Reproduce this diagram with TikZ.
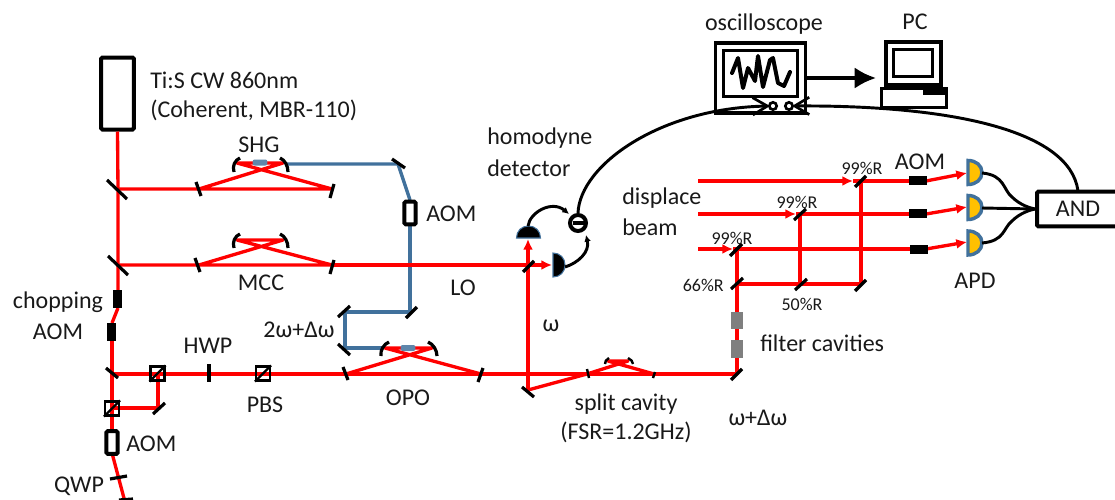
\documentclass[tikz,border=0pt]{standalone}
\usepackage{fontspec}
\setmainfont{Carlito}
\usetikzlibrary{arrows.meta,calc}
\definecolor{beamblue}{HTML}{41719C}
\definecolor{apdor}{HTML}{FFC000}
\definecolor{cavgrey}{HTML}{7F7F7F}
\tikzset{
  x=0.75pt,y=-0.75pt,
  beam/.style={draw=red,line width=2.5pt,line join=round},
  bluebeam/.style={draw=beamblue,line width=2.6pt,line join=round},
  mir/.style={draw=black,line width=2.4pt},
  thinmir/.style={draw=black,line width=1.8pt},
  rarrow/.style={draw=red,line width=2.5pt,-{Latex[length=8pt,width=7.5pt]}},
  wire/.style={draw=black,line width=2.2pt},
  wirearrow/.style={wire,-{Latex[length=5pt,width=5pt]}},
  chevron/.style={wire,-{Straight Barb[length=11pt,width=13pt,line width=2pt]}},
  lab/.style={font=\fontsize{18}{20}\selectfont,inner sep=0pt,text=black!90},
  slab/.style={font=\fontsize{13.5}{15}\selectfont,inner sep=0pt,text=black!90},
  boxblack/.style={fill=black,draw=none,inner sep=0pt},
  aomhollow/.style={draw=black,fill=white,line width=3pt,rounded corners=1pt,inner sep=0pt,minimum width=8.5pt,minimum height=17pt},
  pbscube/.style={draw=black,line width=1.6pt,fill=none,inner sep=0pt,minimum width=10.5pt,minimum height=10.5pt},
  greybox/.style={fill=cavgrey,draw=none,inner sep=0pt,minimum width=9pt,minimum height=13pt},
  crystal/.style={fill=beamblue!85!white,draw=none,inner sep=0pt,minimum width=11pt,minimum height=4.5pt,rounded corners=1.5pt},
  apd/.pic={\path[fill=apdor,draw=beamblue,line width=2.6pt]
     (0,-12) .. controls (8,-12) and (14,-7) .. (14,0) .. controls (14,7) and (8,12) .. (0,12) -- cycle;},
  pd/.pic={\path[fill=black,draw=beamblue,line width=0.8pt]
     (0,-12) .. controls (7,-12) and (12,-7) .. (12,0) .. controls (12,7) and (7,12) .. (0,12) -- cycle;},
}
\newcommand{\pbsdiag}[1]{\draw[black,line width=1.6pt] (#1.south west) -- (#1.north east);}
\begin{document}
\begin{tikzpicture}
\useasboundingbox (0,0) rectangle (1115,500);
\clip (0,0) rectangle (1115,500);

% ---------- named points
\coordinate (m1) at (118,189);
\coordinate (m2) at (118,265);
\coordinate (s1) at (199,189);
\coordinate (s2) at (332,189);
\coordinate (s3) at (237,163);
\coordinate (s4) at (283,163);
\coordinate (c1) at (199,265);
\coordinate (c2) at (332,265);
\coordinate (c3) at (237,240);
\coordinate (c4) at (283,240);
\coordinate (bm1) at (398,164);
\coordinate (bm2) at (410,312);
\coordinate (bm3) at (345,312);
\coordinate (bm4) at (345,348);
\coordinate (o1) at (346,374);
\coordinate (o2) at (481,374);
\coordinate (o3) at (385,348);
\coordinate (o4) at (432,348);
\coordinate (sp1) at (587,374);
\coordinate (sp2) at (654,374);
\coordinate (sp3) at (608,361);
\coordinate (sp4) at (628,361);
\coordinate (ml) at (528,390);
\coordinate (lo) at (528,265);
\coordinate (fm) at (737,374);
\coordinate (h1) at (737,249);
\coordinate (h2) at (800,214);
\coordinate (h3) at (861,181);
\coordinate (f1) at (737,284);
\coordinate (f2) at (800,284);
\coordinate (f3) at (861,284);
\coordinate (d1) at (698,181);
\coordinate (d2) at (698,214);
\coordinate (d3) at (698,249);
\coordinate (lm) at (112,374);
\coordinate (pm) at (158,408);
\coordinate (qe) at (125,502);

\node[draw=black,line width=3pt,rounded corners=1pt,inner sep=0pt,minimum width=24.5pt,minimum height=54pt,fill=white] (laser) at (117.5,93.5) {};

% ---------- blue beam
\coordinate (aomt) at (410,200);
\coordinate (aomb) at (410,226);
\draw[bluebeam] (287,164) -- (bm1) -- (aomt);
\draw[bluebeam] (aomb) -- (bm2) -- (bm3) -- (bm4) -- (383,348);

% ---------- red beams
\draw[beam] (laser.south) -- (m1) -- (m2) -- (118,290);
\draw[beam] (m1) -- (s1) -- (s2) -- (s3) -- (s4) -- (s1);
\draw[beam] (m2) -- (c1) -- (c2) -- (c3) -- (c4) -- (c1);
\draw[beam] (c2) -- (lo);
\draw[rarrow] (lo) -- (552,265);
\draw[beam] (118,308) -- (112,323);
\draw[beam] (112,341) -- (112,432);
\draw[beam] (lm) -- (fm) -- (737,358);
\draw[beam] (737,340) -- (737,329);
\draw[beam] (737,312) -- (h1);
\draw[beam] (o1) -- (o4) -- (o3) -- (o2);
\draw[beam] (ml) -- (sp1) -- (sp4) -- (sp3) -- (sp2);
\draw[rarrow] (ml) -- (528,239);
\draw[beam] (pm) -- (158,374);
\draw[beam] (112,408) -- (pm);
\draw[beam] (112,453) -- (qe);
\draw[beam] (f1) -- (f3) -- (h3);
\draw[beam] (f2) -- (h2);
\draw[rarrow] (d1) -- (853,181);
\draw[rarrow] (d2) -- (796,214);
\draw[rarrow] (d3) -- (733,249);
\draw[beam] (853,181) -- (912,181);
\draw[beam] (796,214) -- (912,214);
\draw[beam] (733,249) -- (912,249);
\draw[rarrow] (926,181) -- (967,173);
\draw[rarrow] (926,214) -- (967,207);
\draw[rarrow] (926,249) -- (967,242);

% ---------- flat mirrors
\draw[mir] (107,180) -- (127,199);
\draw[mir] (108,256) -- (128,275);
\draw[mir] (196,182) -- (201,196);
\draw[mir] (334,184) -- (330,198);
\draw[mir] (195,258) -- (200,272);
\draw[mir] (334,260) -- (330,274);
\draw[mir] (392,159) -- (405,168);
\draw[mir] (406,318) -- (417,307);
\draw[mir] (338,317) -- (350,306);
\draw[mir] (338,344) -- (350,355);
\draw[mir] (343,367) -- (348,380);
\draw[mir] (483,368) -- (478,382);
\draw[thinmir] (587,369) -- (589,378);
\draw[thinmir] (655,372) -- (653,378);
\draw[mir] (522,387) -- (534,397);
\draw[mir] (523,272) -- (534,261);
\draw[mir] (731,380) -- (742,369);
\draw[mir] (855,187) -- (866,176);
\draw[mir] (794,220) -- (806,209);
\draw[mir] (730,256) -- (742,244);
\draw[mir] (731,289) -- (743,278);
\draw[mir] (795,290) -- (807,279);
\draw[mir] (855,291) -- (866,280);
\draw[mir] (106,368) -- (118,378);
\draw[mir] (153,414) -- (165,403);
\draw[mir] (209,364) -- (209,382);
\draw[mir] (110,479) -- (127,476);
\draw[mir] (119,500) -- (133,499);

% ---------- curved mirrors
\draw[mir] (240,158) .. controls (235,160) and (232,166) .. (234,172);
\draw[mir] (280,158) .. controls (285,160) and (288,166) .. (288,172);
\draw[mir] (240,234) .. controls (235,236) and (232,242) .. (234,248);
\draw[mir] (280,234) .. controls (285,236) and (288,242) .. (288,248);
\draw[mir] (389,342) .. controls (384,344) and (380,350) .. (381,356);
\draw[mir] (428,342) .. controls (433,344) and (437,350) .. (437,356);
\draw[thinmir] (609,358) .. controls (606,359) and (605,362) .. (605,364);
\draw[thinmir] (628,358) .. controls (631,359) and (633,362) .. (633,364);

% ---------- crystals
\node[crystal] (shgx) at (260,162.5) {};
\node[crystal] (opox) at (408,348) {};

% ---------- modulators and cubes
\node[aomhollow] (aomb1) at (410,213) {};
\node[aomhollow] (aomb2) at (112,442.5) {};
\node[boxblack,minimum width=6.8pt,minimum height=13.5pt] (chop1) at (117.5,299) {};
\node[boxblack,minimum width=6.8pt,minimum height=13.5pt] (chop2) at (111.5,332) {};
\node[boxblack,minimum width=13.5pt,minimum height=6.2pt] (af1) at (918,180.5) {};
\node[boxblack,minimum width=13.5pt,minimum height=6.2pt] (af2) at (918,213.5) {};
\node[boxblack,minimum width=13.5pt,minimum height=6.2pt] (af3) at (919,249.5) {};
\node[pbscube] (p1) at (157.5,373.5) {}; \pbsdiag{p1}
\node[pbscube] (p2) at (112,408.5) {}; \pbsdiag{p2}
\node[pbscube] (p3) at (263,373.5) {}; \pbsdiag{p3}
\node[greybox] (g1) at (737,320.5) {};
\node[greybox] (g2) at (737,349) {};

% ---------- detectors
\path (528.5,238) pic[rotate=90] {pd};
\path (553,265) pic {pd};
\path (968,172.5) pic {apd};
\path (968,207.5) pic {apd};
\path (968,243) pic {apd};

% ---------- homodyne electronics
\node[circle,draw=black,fill=white,line width=3pt,inner sep=0pt,minimum size=12pt] (sub) at (578,223) {};
\draw[black,line width=2.8pt] ($(sub)+(-5.5,0)$) -- ($(sub)+(5.5,0)$);
\coordinate (pd1top) at (528,226);
\coordinate (pd2out) at (565,267);
\draw[wirearrow] (pd1top) .. controls (530,212) and (552,200) .. (569,214);
\draw[wirearrow] (pd2out) .. controls (578,263) and (590,252) .. (586,235);

% ---------- oscilloscope
\node[draw=black,line width=2.4pt,inner sep=0pt,minimum width=68pt,minimum height=52.5pt,fill=white] (scope) at (760.5,78) {};
\node[draw=black,line width=2.4pt,inner sep=0pt,minimum width=56pt,minimum height=35pt] (screen) at (760.5,73.5) {};
\draw[black,line width=3pt,line join=round,line cap=round]
  (732,73) -- (738,58) -- (743,88) -- (748,68) -- (755,81) -- (758,56) -- (763,87) -- (770,60) -- (773,58) -- (778,83) -- (784,86) -- (790,72);
\coordinate (and1) at (1078,191);
\draw[chevron] (sub.north) .. controls (580,165) and (660,108) .. (770,106);
\draw[chevron] (and1) .. controls (1070,130) and (950,105) .. (792,106);
\node[circle,draw=black,line width=2pt,fill=white,inner sep=0pt,minimum size=5.5pt] (k1) at (773,106) {};
\node[circle,draw=black,line width=2pt,fill=white,inner sep=0pt,minimum size=5.5pt] (k2) at (789,106) {};

% ---------- PC
\node[draw=black,line width=2.6pt,inner sep=0pt,minimum width=41pt,minimum height=32pt,fill=white] (mon) at (913.5,63.5) {};
\node[draw=black,line width=2.4pt,inner sep=0pt,minimum width=29pt,minimum height=20pt] (monin) at (913,63) {};
\node[draw=black,line width=2.4pt,inner sep=0pt,minimum width=48.5pt,minimum height=14.5pt,fill=white] (pcb) at (914,98) {};
\fill[black] (923,88) rectangle (946,95);
\draw[black,line width=2pt] (896,85) -- (896,88) (932,85) -- (932,88);
\draw[-{Latex[length=16pt,width=16pt]},black,line width=2.6pt] (scope.east) -- (876,78);

% ---------- AND
\node[draw=black,line width=3pt,rounded corners=1pt,inner sep=0pt,minimum width=90pt,minimum height=26pt,fill=white] (andbox) at (1097,209) {};
\draw[wire] (982,173) .. controls (1005,175) and (1003,190) .. (1012,197) .. controls (1020,205) and (1030,208) .. (andbox.west);
\draw[wire] (982,208) -- (andbox.west);
\draw[wire] (982,243) .. controls (1005,241) and (1003,228) .. (1012,221) .. controls (1020,213) and (1030,210) .. (andbox.west);

% ---------- labels
\node[lab] (tOsc) at (764,24) {oscilloscope};
\node[lab] (tPC) at (915,22) {PC};
\node[lab,anchor=west] (tTi) at (150,80) {Ti:S CW 860nm};
\node[lab,anchor=west] (tCo) at (150,110) {(Coherent, MBR-110)};
\node[lab] (tSHG) at (259,145) {SHG};
\node[lab,anchor=west] (tA1) at (426,214) {AOM};
\node[lab] (tMCC) at (261,283) {MCC};
\node[lab,anchor=west] (tHo) at (487,138) {homodyne};
\node[lab,anchor=west] (tDe) at (487,168) {detector};
\node[lab,anchor=west] (tDi) at (622,198) {displace};
\node[lab,anchor=west] (tBe) at (622,227) {beam};
\node[lab] (tLO) at (463,288) {LO};
\node[lab] (tW) at (551,326) {ω};
\node[lab] (t2w) at (299,330) {2ω+Δω};
\node[lab] (tCh) at (58,302) {chopping};
\node[lab] (tA2) at (58,332) {AOM};
\node[lab] (tHWP) at (208,346) {HWP};
\node[lab] (tPBS) at (265,405) {PBS};
\node[lab] (tOPO) at (408,398) {OPO};
\node[lab,anchor=west] (tA3) at (126,444) {AOM};
\node[lab] (tQ) at (79,486) {QWP};
\node[lab] (tSp) at (626,404) {split cavity};
\node[lab] (tFS) at (626,432) {(FSR=1.2GHz)};
\node[lab] (tWd) at (758,418) {ω+Δω};
\node[lab,anchor=west] (tFi) at (760,343) {filter cavities};
\node[lab] (tA4) at (920,162) {AOM};
\node[lab] (tAPD) at (975,281) {APD};
\node[lab] (tAND) at (1078,209) {AND};
\node[slab] (r1) at (862,168) {99\%R};
\node[slab] (r2) at (797,202) {99\%R};
\node[slab] (r3) at (732,238) {99\%R};
\node[slab,anchor=east] (r4) at (724,285) {66\%R};
\node[slab] (r5) at (802,304) {50\%R};
\end{tikzpicture}
\end{document}
